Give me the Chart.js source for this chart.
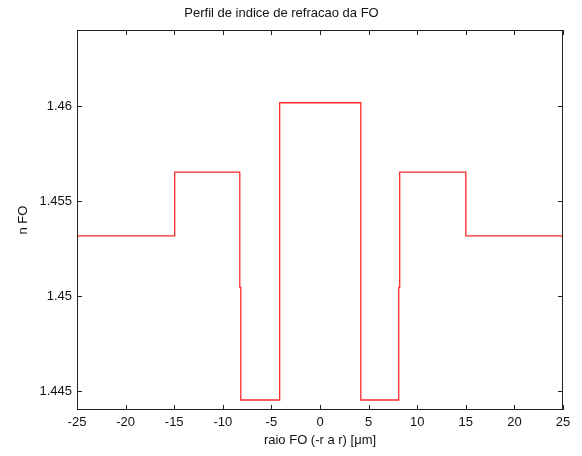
<!DOCTYPE html>
<html>
<head>
<meta charset="utf-8">
<script src="https://cdn.jsdelivr.net/npm/chart.js@4.4.1/dist/chart.umd.min.js"></script>
<style>
html,body{margin:0;padding:0;background:#fff;}
#wrap{width:582px;height:456px;position:relative;}
</style>
</head>
<body>
<div id="wrap"><canvas id="c" width="582" height="456"></canvas></div>
<script>
// Data: radius (µm) and refractive index profile
const radius = [-25, -14.95, -14.95, -8.25, -8.25, -8.15, -8.15, -4.15, -4.15, 4.2, 4.2, 8.1, 8.1, 8.2, 8.2, 15, 15, 25];
const nIndex = [1.45316, 1.45316, 1.45652, 1.45652, 1.45045, 1.45045, 1.44453, 1.44453, 1.46017, 1.46017, 1.44453, 1.44453, 1.45045, 1.45045, 1.45652, 1.45652, 1.45316, 1.45316];
const xTicks = [-25, -20, -15, -10, -5, 0, 5, 10, 15, 20, 25];
const yTicks = [1.445, 1.45, 1.455, 1.46];
const titleText = 'Perfil de indice de refracao da FO';
const xLabel = 'raio FO (-r a r) [\u03bcm]';
const yLabel = 'n FO';

const FONT = 'Liberation Sans, Arial, Helvetica, sans-serif';
const points = radius.map((r, i) => ({x: r, y: nIndex[i]}));

const boxTicks = {
  id: 'boxTicks',
  afterDraw(chart) {
    const {ctx, chartArea: a, scales} = chart;
    ctx.save();
    ctx.strokeStyle = '#222';
    ctx.lineWidth = 1;
    const l = Math.round(a.left), r = Math.round(a.right), t = Math.round(a.top), b = Math.round(a.bottom);
    ctx.strokeRect(l + 0.5, t + 0.5, r - l - 1, b - t - 1);
    const L = 5;
    ctx.beginPath();
    xTicks.forEach(v => {
      const px = Math.round(scales.x.getPixelForValue(v)) + 0.5;
      ctx.moveTo(px, b); ctx.lineTo(px, b - L);
      ctx.moveTo(px, t); ctx.lineTo(px, t + L);
    });
    yTicks.forEach(v => {
      const py = Math.round(scales.y.getPixelForValue(v)) + 0.5;
      ctx.moveTo(l, py); ctx.lineTo(l + L, py);
      ctx.moveTo(r, py); ctx.lineTo(r - L, py);
    });
    ctx.stroke();
    ctx.restore();
  }
};

new Chart(document.getElementById('c'), {
  type: 'scatter',
  data: {
    datasets: [{
      data: points,
      showLine: true,
      borderColor: '#ff2a2a',
      borderWidth: 1.3,
      pointRadius: 0,
      tension: 0,
      fill: false
    }]
  },
  options: {
    responsive: false,
    animation: false,
    events: [],
    layout: {padding: {left: 0, right: 19, top: 0, bottom: 0}},
    plugins: {
      legend: {display: false},
      tooltip: {enabled: false},
      title: {
        display: true,
        text: titleText,
        color: '#111',
        font: {family: FONT, size: 13, weight: 'normal'},
        padding: {top: 6, bottom: 8.6}
      }
    },
    scales: {
      x: {
        type: 'linear',
        min: -25, max: 25,
        afterBuildTicks(s) { s.ticks = xTicks.map(v => ({value: v})); },
        afterFit(s) { s.height = 46; s.paddingLeft = 0; s.paddingRight = 0; },
        grid: {display: false, drawTicks: false},
        border: {display: false},
        ticks: {
          color: '#111', font: {family: FONT, size: 13}, padding: 5,
          maxRotation: 0, autoSkip: false,
          callback: v => String(v)
        },
        title: {
          display: true, text: xLabel, color: '#111',
          font: {family: FONT, size: 13}, padding: {top: 0, bottom: 8}
        }
      },
      y: {
        type: 'linear',
        min: 1.444003, max: 1.463986,
        afterBuildTicks(s) { s.ticks = yTicks.map(v => ({value: v})); },
        afterFit(s) { s.width = 77; s.paddingTop = 0; s.paddingBottom = 0; },
        grid: {display: false, drawTicks: false},
        border: {display: false},
        ticks: {
          color: '#111', font: {family: FONT, size: 13}, padding: 5,
          autoSkip: false,
          callback: v => String(parseFloat(v.toFixed(3)))
        },
        title: {
          display: true, text: yLabel, color: '#111',
          font: {family: FONT, size: 13}, padding: {top: 16, bottom: 0}
        }
      }
    }
  },
  plugins: [boxTicks]
});
</script>
</body>
</html>
